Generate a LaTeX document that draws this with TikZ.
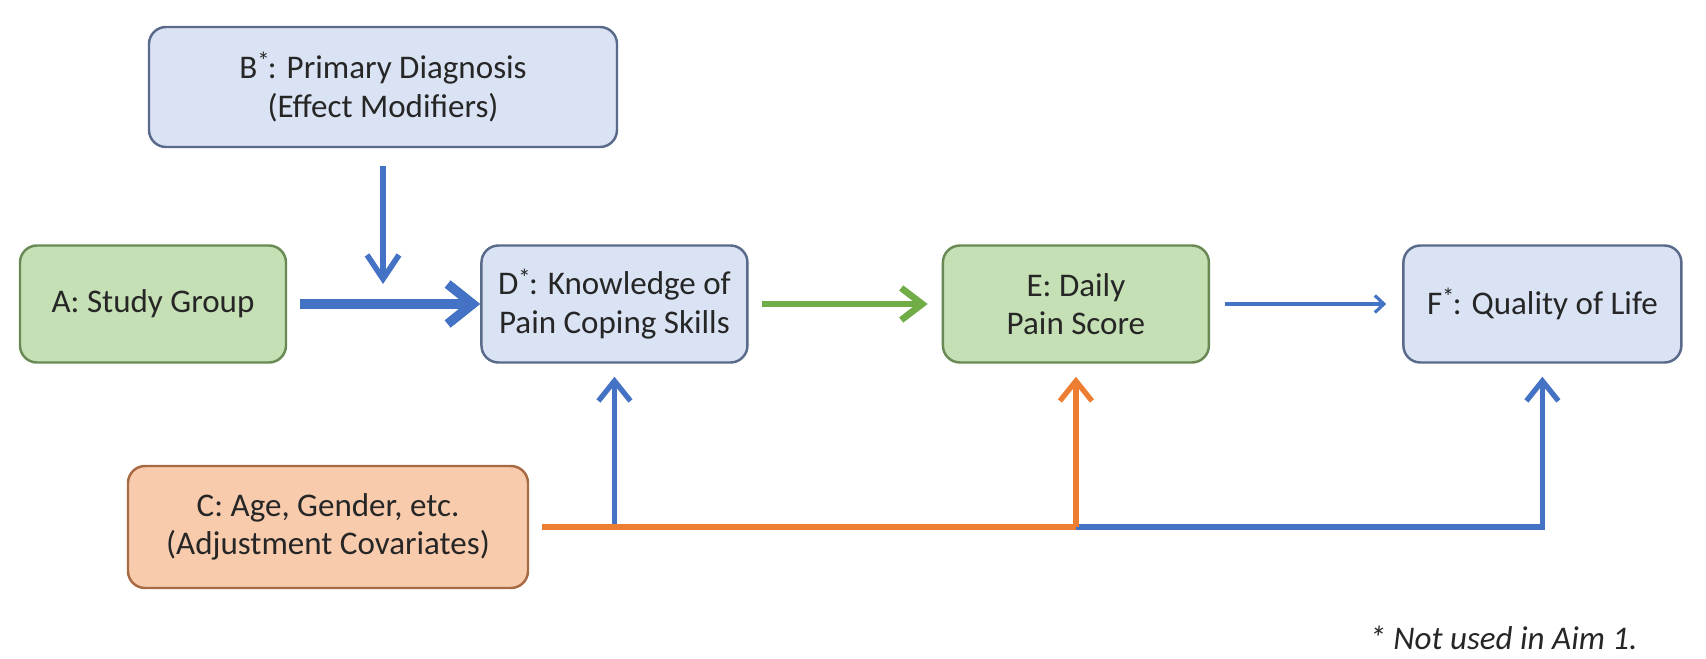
\documentclass[tikz,border=0pt]{standalone}
\usepackage{fontspec}
\setmainfont{Carlito}
\usepackage{xcolor}
\definecolor{cBlue}{HTML}{4472C4}
\definecolor{cGreen}{HTML}{70AD47}
\definecolor{cOrange}{HTML}{ED7D31}
\definecolor{cBlueFill}{HTML}{DAE3F3}
\definecolor{cBlueLine}{HTML}{5A6A8A}
\definecolor{cGreenFill}{HTML}{C5E0B4}
\definecolor{cGreenLine}{HTML}{6A8A55}
\definecolor{cOrangeFill}{HTML}{F8CBAD}
\definecolor{cOrangeLine}{HTML}{A86A42}
\definecolor{cText}{HTML}{262626}
\usepackage{tikz}
\usetikzlibrary{positioning,arrows.meta}
\newcommand{\starred}[1]{#1\raisebox{0.55ex}{\scriptsize *}\kern-0.05em}
\tikzset{
  node-box/.style={draw,line width=0.7pt,rounded corners=0.17cm,
    minimum height=1.17cm,minimum width=2.66cm,align=center,
    font=\fontsize{9.4}{11}\selectfont,text=cText,inner sep=2pt},
  node-var/.style={fill=cBlueFill,draw=cBlueLine},
  node-out/.style={fill=cGreenFill,draw=cGreenLine},
  node-adj/.style={fill=cOrangeFill,draw=cOrangeLine},
  arrow-main/.style={-{Straight Barb[length=0.25cm,width=0.4cm]},line width=2.7pt,draw=cBlue},
  arrow-mod/.style={-{Straight Barb[length=0.24cm,width=0.32cm]},line width=1.6pt,draw=cBlue},
  arrow-pain/.style={-{Straight Barb[length=0.21cm,width=0.32cm]},line width=1.9pt,draw=cGreen},
  arrow-thin/.style={-{Straight Barb[length=0.09cm,width=0.17cm]},line width=0.9pt,draw=cBlue},
  arrow-up/.style={-{Straight Barb[length=0.2cm,width=0.32cm]},line width=1.5pt},
  line-adj/.style={line width=1.5pt,draw=cOrange},
}
\begin{document}
\begin{tikzpicture}[node distance=5mm and 1.93cm]
  \useasboundingbox (0,0) rectangle (17.06,-6.58);
  \node[node-box,node-out]                     (A) at (1.53,-3.04) {A: Study Group};
  \node[node-box,node-var,right=of A]          (D) {\starred{D}: Knowledge of\\Pain Coping Skills};
  \node[node-box,node-out,right=of D]          (E) {E: Daily\\Pain Score};
  \node[node-box,node-var,right=1.92cm of E,minimum width=2.78cm] (F) {\starred{F}: Quality of Life};
  \node[node-box,node-var,minimum width=4.68cm,minimum height=1.2cm] (B) at (3.83,-0.87)
    {\starred{B}: Primary Diagnosis\\(Effect Modifiers)};
  \node[node-box,node-adj,minimum width=4cm,minimum height=1.22cm] (C) at (3.28,-5.27)
    {C: Age, Gender, etc.\\(Adjustment Covariates)};
  \node[anchor=east,font=\fontsize{9.4}{11}\selectfont\itshape,text=cText] (note) at (16.5,-6.38)
    {* Not used in Aim 1.};
  \coordinate (c-out) at ([xshift=0.13cm]C.east);
  \coordinate (bj) at (B.south |- A.east);
  % main path
  \draw[arrow-main] ([xshift=0.13cm]A.east) -- (D.west);
  \draw[arrow-mod] ([yshift=-0.18cm]B.south) -- ([yshift=0.2cm]bj);
  \draw[arrow-pain] ([xshift=0.13cm]D.east) -- ([xshift=-0.14cm]E.west);
  \draw[arrow-thin] ([xshift=0.15cm]E.east) -- ([xshift=-0.16cm]F.west);
  % covariates
  \draw[arrow-up,draw=cBlue] (D.south |- c-out) -- ([yshift=-0.13cm]D.south);
  \draw[line-adj] (c-out) -- (E.south |- c-out);
  \draw[arrow-up,draw=cBlue] (E.south |- c-out) -| ([yshift=-0.13cm]F.south);
  \draw[arrow-up,draw=cOrange] (E.south |- c-out) -- ([yshift=-0.13cm]E.south);
\end{tikzpicture}
\end{document}
